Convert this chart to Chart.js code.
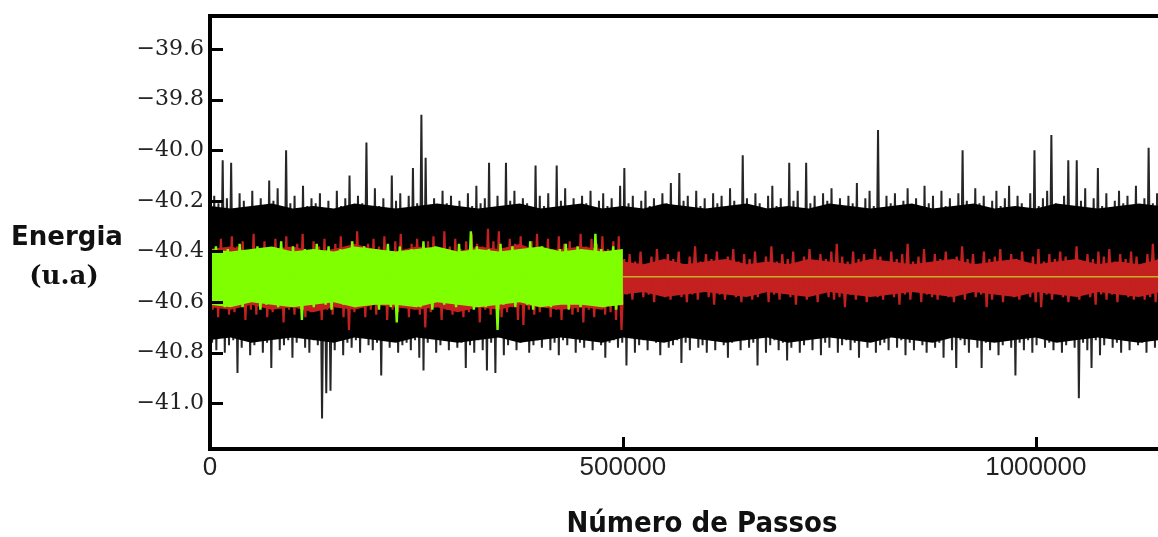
<!DOCTYPE html>
<html lang="pt">
<head>
<meta charset="utf-8">
<title>Energia x Número de Passos</title>
<script src="https://cdn.jsdelivr.net/npm/chart.js@4.4.1/dist/chart.umd.min.js"></script>
<style>
  html, body { margin: 0; padding: 0; background: #fff; }
  #wrap { position: relative; width: 1158px; height: 537px; overflow: hidden; }
  #grafico { position: absolute; left: 0; top: 0; }
  .titulo { position: absolute; color: #111; font-weight: bold; white-space: nowrap; }
  .ytitulo { left: 0; width: 134px; text-align: center; font-size: 26px; line-height: 30px; }
  #yt1 { top: 221px; font-family: 'DejaVu Sans', sans-serif; }
  #yt2 { top: 260px; left: -3px; font-family: 'DejaVu Serif', serif; }
  #xt { left: 502px; width: 400px; top: 508px; text-align: center; font-size: 29px; line-height: 29px;
        font-family: 'DejaVu Sans Condensed', 'Liberation Sans Narrow', 'DejaVu Sans', sans-serif; }
</style>
</head>
<body>
<div id="wrap">
  <canvas id="grafico" width="1158" height="537"></canvas>
  <div class="titulo ytitulo" id="yt1">Energia</div>
  <div class="titulo ytitulo" id="yt2">(u.a)</div>
  <div class="titulo" id="xt">Número de Passos</div>
</div>
<script>
// eixos
const xTicks = [0, 500000, 1000000];
const xTickLabels = ['0', '500000', '1000000'];
const yTicks = [-39.6, -39.8, -40.0, -40.2, -40.4, -40.6, -40.8, -41.0];
const yTickLabels = ['−39.6', '−39.8', '−40.0', '−40.2', '−40.4', '−40.6', '−40.8', '−41.0'];

// intervalo de passos entre amostras
const passoPreto = 2560;
const passoVermelho = 3300;
const passoVerde = 3590;
const passoNucleo = 25000;

// energia (u.a) - série preta, 0 a ~1.15e6 passos
const energiaPreta = [
  -40.22, -40.76, -40.18, -40.79, -40.21, -40.74, -40.04, -40.80, -40.19, -40.77,
  -40.05, -40.75, -40.23, -40.88, -40.17, -40.78, -40.20, -40.73, -40.24, -40.81,
  -40.16, -40.77, -40.22, -40.75, -40.19, -40.80, -40.25, -40.76, -40.12, -40.86,
  -40.20, -40.74, -40.15, -40.79, -40.23, -40.77, -40.00, -40.75, -40.21, -40.82,
  -40.18, -40.76, -40.24, -40.73, -40.14, -40.78, -40.22, -40.80, -40.19, -40.75,
  -40.21, -40.77, -40.17, -41.06, -40.23, -40.96, -40.20, -40.95, -40.25, -40.79,
  -40.16, -40.74, -40.22, -40.81, -40.19, -40.76, -40.10, -40.78, -40.24, -40.75,
  -40.18, -40.80, -40.21, -40.73, -39.97, -40.77, -40.23, -40.79, -40.15, -40.76,
  -40.22, -40.89, -40.19, -40.75, -40.24, -40.78, -40.10, -40.74, -40.20, -40.80,
  -40.17, -40.77, -40.23, -40.76, -40.18, -40.79, -40.07, -40.75, -40.21, -40.82,
  -39.86, -40.87, -40.03, -40.76, -40.22, -40.74, -40.19, -40.80, -40.25, -40.77,
  -40.16, -40.75, -40.21, -40.79, -40.18, -40.73, -40.24, -40.78, -40.20, -40.76,
  -40.23, -40.86, -40.17, -40.77, -40.22, -40.80, -40.14, -40.75, -40.21, -40.79,
  -40.19, -40.87, -40.05, -40.76, -40.24, -40.88, -40.18, -40.74, -40.22, -40.81,
  -40.05, -40.77, -40.20, -40.75, -40.16, -40.79, -40.23, -40.76, -40.19, -40.73,
  -40.21, -40.80, -40.25, -40.77, -40.06, -40.75, -40.18, -40.78, -40.22, -40.74,
  -40.17, -40.79, -40.24, -40.76, -40.06, -40.81, -40.20, -40.75, -40.15, -40.77,
  -40.22, -40.74, -40.19, -40.80, -40.23, -40.76, -40.18, -40.78, -40.21, -40.75,
  -40.16, -40.79, -40.24, -40.73, -40.20, -40.77, -40.17, -40.82, -40.22, -40.76,
  -40.19, -40.75, -40.23, -40.78, -40.14, -40.76, -40.07, -40.85, -40.21, -40.74,
  -40.18, -40.80, -40.24, -40.77, -40.20, -40.75, -40.16, -40.79, -40.22, -40.73,
  -40.19, -40.76, -40.25, -40.81, -40.17, -40.74, -40.21, -40.78, -40.13, -40.77,
  -40.23, -40.75, -40.09, -40.84, -40.20, -40.76, -40.18, -40.79, -40.24, -40.74,
  -40.16, -40.78, -40.22, -40.77, -40.19, -40.80, -40.25, -40.75, -40.17, -40.79,
  -40.21, -40.73, -40.18, -40.77, -40.23, -40.82, -40.15, -40.76, -40.20, -40.74,
  -40.24, -40.79, -40.02, -40.75, -40.19, -40.78, -40.22, -40.76, -40.17, -40.85,
  -40.21, -40.74, -40.25, -40.80, -40.18, -40.77, -40.14, -40.75, -40.22, -40.79,
  -40.19, -40.76, -40.23, -40.83, -40.05, -40.78, -40.20, -40.74, -40.16, -40.80,
  -40.24, -40.77, -40.05, -40.75, -40.21, -40.79, -40.18, -40.73, -40.23, -40.81,
  -40.17, -40.76, -40.20, -40.78, -40.15, -40.74, -40.22, -40.80, -40.19, -40.77,
  -40.25, -40.75, -40.18, -40.79, -40.21, -40.76, -40.13, -40.82, -40.23, -40.74,
  -40.19, -40.78, -40.16, -40.75, -40.22, -40.80, -39.92, -40.77, -40.24, -40.76,
  -40.18, -40.79, -40.21, -40.73, -40.17, -40.78, -40.23, -40.75, -40.20, -40.81,
  -40.15, -40.76, -40.22, -40.79, -40.19, -40.74, -40.24, -40.77, -40.14, -40.80,
  -40.21, -40.75, -40.18, -40.78, -40.23, -40.76, -40.16, -40.82, -40.22, -40.74,
  -40.19, -40.79, -40.25, -40.86, -40.17, -40.75, -40.00, -40.77, -40.20, -40.80,
  -40.23, -40.74, -40.15, -40.78, -40.21, -40.86, -40.18, -40.76, -40.24, -40.79,
  -40.20, -40.75, -40.16, -40.81, -40.22, -40.77, -40.19, -40.73, -40.14, -40.78,
  -40.23, -40.89, -40.18, -40.76, -40.21, -40.79, -40.25, -40.75, -40.17, -40.80,
  -40.00, -40.77, -40.22, -40.74, -40.19, -40.78, -40.16, -40.76, -39.94, -40.79,
  -40.21, -40.75, -40.24, -40.80, -40.18, -40.77, -40.04, -40.74, -40.22, -40.78,
  -40.04, -40.98, -40.20, -40.76, -40.15, -40.79, -40.23, -40.86, -40.19, -40.75,
  -40.07, -40.81, -40.22, -40.77, -40.17, -40.74, -40.24, -40.78, -40.20, -40.76,
  -40.16, -40.80, -40.21, -40.75, -40.18, -40.79, -40.23, -40.73, -40.14, -40.77,
  -40.22, -40.76, -40.19, -40.80, -39.99, -40.75, -40.21, -40.78, -40.17, -40.74
];

// série vermelha
const energiaVermelha = [
  -40.37, -40.63, -40.40, -40.66, -40.35, -40.62, -40.39, -40.65, -40.34, -40.64,
  -40.38, -40.61, -40.36, -40.67, -40.41, -40.63, -40.33, -40.65, -40.39, -40.62,
  -40.36, -40.66, -40.40, -40.64, -40.35, -40.62, -40.38, -40.68, -40.34, -40.63,
  -40.39, -40.65, -40.37, -40.61, -40.33, -40.66, -40.40, -40.64, -40.36, -40.62,
  -40.38, -40.67, -40.35, -40.63, -40.41, -40.65, -40.37, -40.62, -40.34, -40.66,
  -40.39, -40.71, -40.36, -40.64, -40.32, -40.62, -40.40, -40.66, -40.37, -40.63,
  -40.35, -40.65, -40.38, -40.61, -40.34, -40.67, -40.40, -40.63, -40.36, -40.64,
  -40.33, -40.62, -40.39, -40.66, -40.37, -40.63, -40.35, -40.65, -40.38, -40.70,
  -40.36, -40.64, -40.34, -40.62, -40.40, -40.67, -40.32, -40.63, -40.38, -40.65,
  -40.35, -40.61, -40.39, -40.66, -40.36, -40.64, -40.33, -40.62, -40.37, -40.68,
  -40.38, -40.63, -40.31, -40.65, -40.36, -40.62, -40.32, -40.66, -40.39, -40.64,
  -40.35, -40.62, -40.37, -40.67, -40.34, -40.69, -40.40, -40.63, -40.36, -40.65,
  -40.33, -40.64, -40.38, -40.61, -40.35, -40.66, -40.39, -40.63, -40.34, -40.67,
  -40.37, -40.62, -40.36, -40.65, -40.40, -40.64, -40.33, -40.68, -40.38, -40.63,
  -40.35, -40.66, -40.37, -40.62, -40.34, -40.65, -40.39, -40.64, -40.36, -40.67,
  -40.34, -40.71, -40.43, -40.57, -40.41, -40.59, -40.44, -40.56, -40.40, -40.58,
  -40.45, -40.57, -40.42, -40.60, -40.39, -40.56, -40.44, -40.58, -40.41, -40.59,
  -40.43, -40.56, -40.40, -40.58, -40.45, -40.60, -40.42, -40.57, -40.38, -40.59,
  -40.44, -40.56, -40.41, -40.58, -40.43, -40.61, -40.40, -40.57, -40.46, -40.59,
  -40.42, -40.56, -40.39, -40.58, -40.44, -40.60, -40.41, -40.57, -40.43, -40.59,
  -40.40, -40.58, -40.45, -40.56, -40.42, -40.60, -40.38, -40.57, -40.44, -40.59,
  -40.41, -40.56, -40.43, -40.58, -40.40, -40.61, -40.45, -40.57, -40.42, -40.59,
  -40.39, -40.57, -40.44, -40.60, -40.41, -40.56, -40.43, -40.58, -40.40, -40.59,
  -40.37, -40.58, -40.42, -40.62, -40.44, -40.57, -40.40, -40.59, -40.43, -40.56,
  -40.41, -40.60, -40.45, -40.57, -40.39, -40.58, -40.42, -40.59, -40.44, -40.56,
  -40.40, -40.58, -40.43, -40.61, -40.41, -40.57, -40.37, -40.59, -40.44, -40.56,
  -40.42, -40.60, -40.39, -40.57, -40.45, -40.58, -40.41, -40.59, -40.43, -40.56,
  -40.40, -40.58, -40.44, -40.60, -40.42, -40.57, -40.38, -40.59, -40.43, -40.56,
  -40.41, -40.58, -40.45, -40.57, -40.40, -40.62, -40.43, -40.59, -40.42, -40.56,
  -40.39, -40.60, -40.44, -40.57, -40.41, -40.58, -40.43, -40.59, -40.40, -40.56,
  -40.45, -40.58, -40.42, -40.60, -40.39, -40.62, -40.44, -40.57, -40.41, -40.59,
  -40.43, -40.56, -40.40, -40.58, -40.42, -40.60, -40.45, -40.57, -40.38, -40.59,
  -40.44, -40.56, -40.41, -40.58, -40.43, -40.61, -40.40, -40.57, -40.42, -40.59,
  -40.39, -40.57, -40.44, -40.60, -40.41, -40.56, -40.43, -40.58, -40.40, -40.59,
  -40.42, -40.57, -40.45, -40.59, -40.41, -40.58, -40.37, -40.60, -40.43, -40.57
];

// série verde, só até 500000 passos
const energiaVerde = [
  -40.40, -40.61, -40.38, -40.59, -40.42, -40.62, -40.39, -40.60, -40.41, -40.58,
  -40.37, -40.62, -40.40, -40.60, -40.43, -40.59, -40.38, -40.63, -40.41, -40.61,
  -40.39, -40.58, -40.42, -40.62, -40.36, -40.60, -40.40, -40.61, -40.38, -40.59,
  -40.41, -40.67, -40.39, -40.60, -40.42, -40.62, -40.37, -40.59, -40.40, -40.61,
  -40.38, -40.63, -40.41, -40.58, -40.39, -40.61, -40.43, -40.60, -40.36, -40.62,
  -40.40, -40.59, -40.38, -40.61, -40.42, -40.60, -40.39, -40.63, -40.41, -40.58,
  -40.37, -40.62, -40.40, -40.68, -40.38, -40.60, -40.42, -40.61, -40.39, -40.59,
  -40.41, -40.62, -40.36, -40.60, -40.40, -40.63, -40.38, -40.59, -40.42, -40.61,
  -40.39, -40.60, -40.41, -40.62, -40.37, -40.58, -40.40, -40.61, -40.32, -40.63,
  -40.38, -40.60, -40.42, -40.62, -40.39, -40.59, -40.41, -40.71, -40.37, -40.61,
  -40.40, -40.60, -40.38, -40.62, -40.43, -40.59, -40.39, -40.61, -40.36, -40.63,
  -40.41, -40.60, -40.38, -40.58, -40.40, -40.62, -40.42, -40.61, -40.39, -40.59,
  -40.37, -40.63, -40.41, -40.60, -40.38, -40.62, -40.40, -40.59, -40.42, -40.61,
  -40.33, -40.60, -40.39, -40.62, -40.41, -40.59, -40.38, -40.63, -40.40, -40.61
];

// faixa densa de cada série (borda de cima / de baixo), a cada 25000 passos
const nucleoPretoSup = [
  -40.22, -40.23, -40.22, -40.21, -40.23, -40.22, -40.23, -40.21, -40.22, -40.23,
  -40.22, -40.21, -40.22, -40.23, -40.22, -40.21, -40.23, -40.22, -40.21, -40.23,
  -40.22, -40.23, -40.21, -40.22, -40.23, -40.22, -40.21, -40.23, -40.22, -40.23,
  -40.21, -40.22, -40.23, -40.22, -40.21, -40.23, -40.22, -40.21, -40.23, -40.22,
  -40.23, -40.21, -40.22, -40.23, -40.22, -40.21, -40.22
];
const nucleoPretoInf = [
  -40.75, -40.74, -40.76, -40.75, -40.74, -40.75, -40.76, -40.74, -40.75, -40.76,
  -40.74, -40.75, -40.76, -40.75, -40.74, -40.76, -40.75, -40.74, -40.75, -40.76,
  -40.74, -40.75, -40.76, -40.74, -40.75, -40.76, -40.75, -40.74, -40.76, -40.75,
  -40.74, -40.75, -40.76, -40.74, -40.75, -40.76, -40.74, -40.75, -40.76, -40.75,
  -40.74, -40.76, -40.75, -40.74, -40.75, -40.76, -40.75
];
const nucleoVermSup = [
  -40.39, -40.38, -40.40, -40.39, -40.38, -40.40, -40.39, -40.37, -40.39, -40.40,
  -40.38, -40.39, -40.40, -40.38, -40.39, -40.37, -40.40, -40.39, -40.38, -40.39,
  -40.44, -40.45, -40.43, -40.45, -40.44, -40.43, -40.45, -40.44, -40.45, -40.43,
  -40.44, -40.45, -40.43, -40.44, -40.45, -40.44, -40.43, -40.45, -40.44, -40.43,
  -40.45, -40.44, -40.43, -40.45, -40.44, -40.45, -40.43
];
const nucleoVermInf = [
  -40.62, -40.63, -40.61, -40.63, -40.62, -40.64, -40.62, -40.63, -40.61, -40.62,
  -40.63, -40.62, -40.64, -40.62, -40.63, -40.61, -40.62, -40.63, -40.62, -40.63,
  -40.57, -40.56, -40.58, -40.57, -40.56, -40.57, -40.58, -40.56, -40.57, -40.58,
  -40.56, -40.57, -40.58, -40.57, -40.56, -40.57, -40.58, -40.56, -40.57, -40.58,
  -40.56, -40.57, -40.58, -40.56, -40.57, -40.58, -40.56
];
const nucleoVerdeSup = [
  -40.39, -40.40, -40.39, -40.38, -40.40, -40.39, -40.40, -40.38, -40.39, -40.40,
  -40.39, -40.38, -40.40, -40.39, -40.40, -40.39, -40.38, -40.40, -40.39, -40.40, -40.39
];
const nucleoVerdeInf = [
  -40.61, -40.62, -40.60, -40.61, -40.62, -40.61, -40.60, -40.62, -40.61, -40.61,
  -40.62, -40.60, -40.61, -40.62, -40.61, -40.60, -40.62, -40.61, -40.61, -40.62, -40.61
];

// linha de equilíbrio depois de 500000 passos
const passosMedia = [500000, 1148000];
const energiaMedia = [-40.50, -40.50];

const serie = (vals, passo) => vals.map((v, i) => ({ x: i * passo, y: v }));

const linha = (dados, cor, largura) => ({ data: dados, borderColor: cor, borderWidth: largura, fill: false });
const faixa = (sup, inf, cor) => [
  { data: serie(sup, passoNucleo), borderWidth: 0, borderColor: cor, backgroundColor: cor, fill: '+1' },
  { data: serie(inf, passoNucleo), borderWidth: 0, borderColor: cor, fill: false }
];

// ticks para dentro e moldura
const moldura = {
  id: 'moldura',
  afterDraw(chart) {
    const { ctx, chartArea: a, scales: { x, y } } = chart;
    ctx.save();
    ctx.strokeStyle = '#000';
    ctx.lineWidth = 3;
    ctx.beginPath();
    yTicks.forEach(v => {
      const py = Math.round(y.getPixelForValue(v)) + 0.5;
      ctx.moveTo(a.left, py);
      ctx.lineTo(a.left + 13, py);
    });
    xTicks.forEach(v => {
      if (v === 0) return;
      const px = Math.round(x.getPixelForValue(v)) + 0.5;
      ctx.moveTo(px, a.bottom);
      ctx.lineTo(px, a.bottom - 12);
    });
    ctx.stroke();
    ctx.lineWidth = 4;
    ctx.beginPath();
    ctx.moveTo(a.left - 2, a.top);
    ctx.lineTo(a.right, a.top);
    ctx.moveTo(a.left, a.top - 2);
    ctx.lineTo(a.left, a.bottom + 2);
    ctx.moveTo(a.left - 2, a.bottom);
    ctx.lineTo(a.right, a.bottom);
    ctx.stroke();
    ctx.restore();
  }
};

new Chart(document.getElementById('grafico'), {
  type: 'line',
  data: {
    datasets: [
      linha(passosMedia.map((p, i) => ({ x: p, y: energiaMedia[i] })), '#c8b020', 1.5),
      linha(serie(energiaVerde, passoVerde), '#7fff00', 2.4),
      ...faixa(nucleoVerdeSup, nucleoVerdeInf, '#7fff00'),
      linha(serie(energiaVermelha, passoVermelho), '#c42020', 2.2),
      ...faixa(nucleoVermSup, nucleoVermInf, '#c42020'),
      linha(serie(energiaPreta, passoPreto), 'rgba(0,0,0,0.85)', 2),
      ...faixa(nucleoPretoSup, nucleoPretoInf, '#000')
    ]
  },
  options: {
    responsive: false,
    animation: false,
    devicePixelRatio: 1,
    parsing: false,
    elements: { point: { radius: 0 }, line: { tension: 0 } },
    layout: { padding: { top: 16, right: 0, bottom: 0, left: 0 } },
    plugins: { legend: { display: false }, tooltip: { enabled: false } },
    scales: {
      x: {
        type: 'linear',
        min: 0,
        max: 1148000,
        afterFit: s => { s.height = 88; },
        afterBuildTicks: s => { s.ticks = xTicks.map(v => ({ value: v })); },
        grid: { display: false, drawTicks: false },
        border: { display: false },
        ticks: {
          autoSkip: false,
          maxRotation: 0,
          padding: 3,
          color: '#222',
          font: { family: "'Liberation Sans', Arial, sans-serif", size: 26 },
          callback: (v, i) => xTickLabels[i]
        }
      },
      y: {
        min: -41.18,
        max: -39.47,
        afterFit: s => { s.width = 210; s.paddingTop = 0; s.paddingBottom = 0; },
        afterBuildTicks: s => { s.ticks = yTicks.map(v => ({ value: v })); },
        grid: { display: false, drawTicks: false },
        border: { display: false },
        ticks: {
          padding: 6,
          color: '#222',
          font: { family: "'DejaVu Serif', serif", size: 22 },
          callback: (v, i) => yTickLabels[i]
        }
      }
    }
  },
  plugins: [moldura]
});
</script>
</body>
</html>
